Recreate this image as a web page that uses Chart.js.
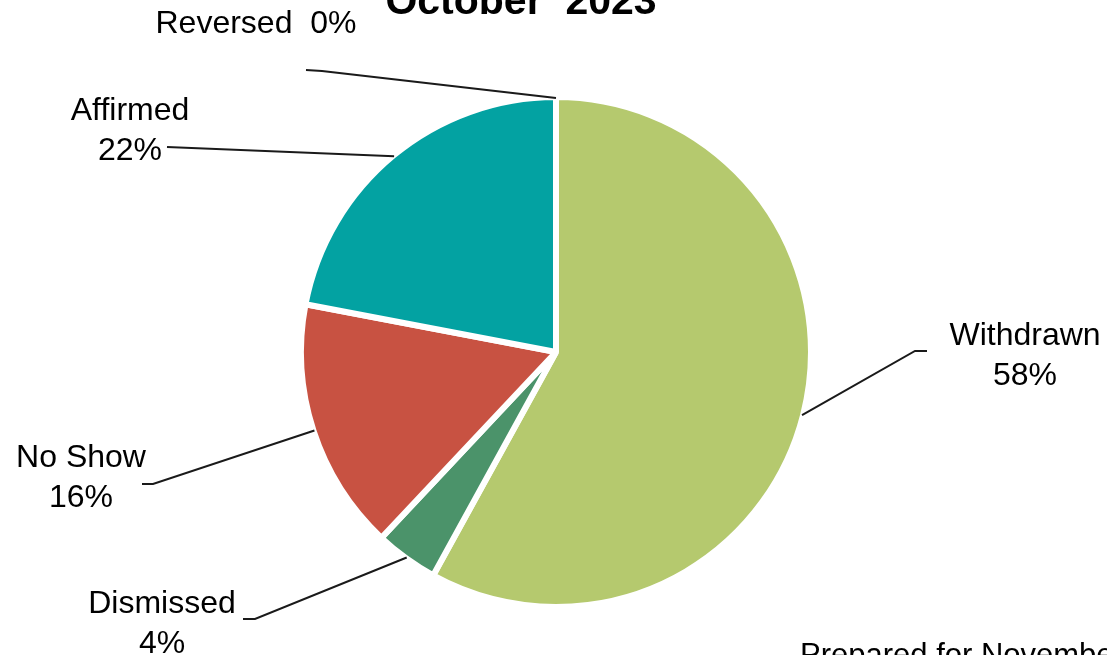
<!DOCTYPE html>
<html>
<head>
<meta charset="utf-8">
<script src="https://cdn.jsdelivr.net/npm/chart.js@4.4.0/dist/chart.umd.min.js"></script>
<style>
  html, body { margin: 0; padding: 0; background: #fff; }
  #wrap { width: 1107px; height: 655px; position: relative; }
</style>
</head>
<body>
<div id="wrap"><canvas id="pie-chart" width="1107" height="655"></canvas></div>
<script>
// Data
var categories = ['Withdrawn', 'Dismissed', 'No Show', 'Affirmed', 'Reversed'];
var values = [58, 4, 16, 22, 0];
var sliceColors = ['#b5c96e', '#4b936a', '#c85242', '#03a2a2', '#5b7fbf'];
var chartTitle = 'October  2023';
var footNote = 'Prepared for November';

// Where each data label sits (text centre x, first baseline y) and where its leader line bends/ends
var labelLayout = [
    { x: 1025, y: 345, oneLine: false, elbow: [915, 351], end: [927, 351] },
    { x: 162,  y: 613, oneLine: false, elbow: [255, 619], end: [243, 619] },
    { x: 81,   y: 467, oneLine: false, elbow: [153, 484], end: [142, 484] },
    { x: 130,  y: 120, oneLine: false, elbow: [167, 147], end: [167, 147] },
    { x: 256,  y: 33,  oneLine: true,  elbow: [322, 71],  end: [306, 70] }
];

var FONT = "'Liberation Sans', Arial, sans-serif";

var labelPlugin = {
    id: 'excelLabels',
    afterDraw: function (chart) {
        var ctx = chart.ctx;
        var meta = chart.getDatasetMeta(0);
        var total = values.reduce(function (a, b) { return a + b; }, 0);
        ctx.save();

        // leader lines, starting at the middle of each slice's outer edge
        ctx.strokeStyle = '#1a1a1a';
        ctx.lineWidth = 2;
        meta.data.forEach(function (arc, i) {
            var p = arc.getProps(['x', 'y', 'startAngle', 'endAngle', 'outerRadius'], true);
            var mid = (p.startAngle + p.endAngle) / 2;
            var sx = p.x + Math.cos(mid) * (p.outerRadius - 1);
            var sy = p.y + Math.sin(mid) * (p.outerRadius - 1);
            var lay = labelLayout[i];
            ctx.beginPath();
            ctx.moveTo(sx, sy);
            ctx.lineTo(lay.elbow[0], lay.elbow[1]);
            ctx.lineTo(lay.end[0], lay.end[1]);
            ctx.stroke();
        });

        // label text
        ctx.fillStyle = '#000';
        ctx.font = '32px ' + FONT;
        ctx.textAlign = 'center';
        ctx.textBaseline = 'alphabetic';
        categories.forEach(function (name, i) {
            var pct = Math.round(values[i] / total * 100) + '%';
            var lay = labelLayout[i];
            if (lay.oneLine) {
                ctx.fillText(name + '  ' + pct, lay.x, lay.y);
            } else {
                ctx.fillText(name, lay.x, lay.y);
                ctx.fillText(pct, lay.x, lay.y + 40);
            }
        });

        // title (cut off at the top, as in the original)
        ctx.font = 'bold 41px ' + FONT;
        ctx.fillText(chartTitle, 521, 14);

        // foot note, bottom right
        ctx.font = '31px ' + FONT;
        ctx.textAlign = 'left';
        ctx.textBaseline = 'top';
        ctx.fillText(footNote, 800, 641);
        ctx.restore();
    }
};

window.onload = function () {
    var ctx = document.getElementById('pie-chart').getContext('2d');
    var pieChart = new Chart(ctx, {
        type: 'pie',
        data: {
            labels: categories,
            datasets: [{
                data: values,
                backgroundColor: sliceColors,
                borderColor: '#ffffff',
                borderWidth: 6
            }]
        },
        options: {
            responsive: false,
            animation: false,
            radius: 255,
            layout: { padding: { left: 5, right: 0, top: 49, bottom: 0 } },
            plugins: {
                legend: { display: false },
                tooltip: { enabled: false }
            }
        },
        plugins: [labelPlugin]
    });
};
</script>
</body>
</html>
